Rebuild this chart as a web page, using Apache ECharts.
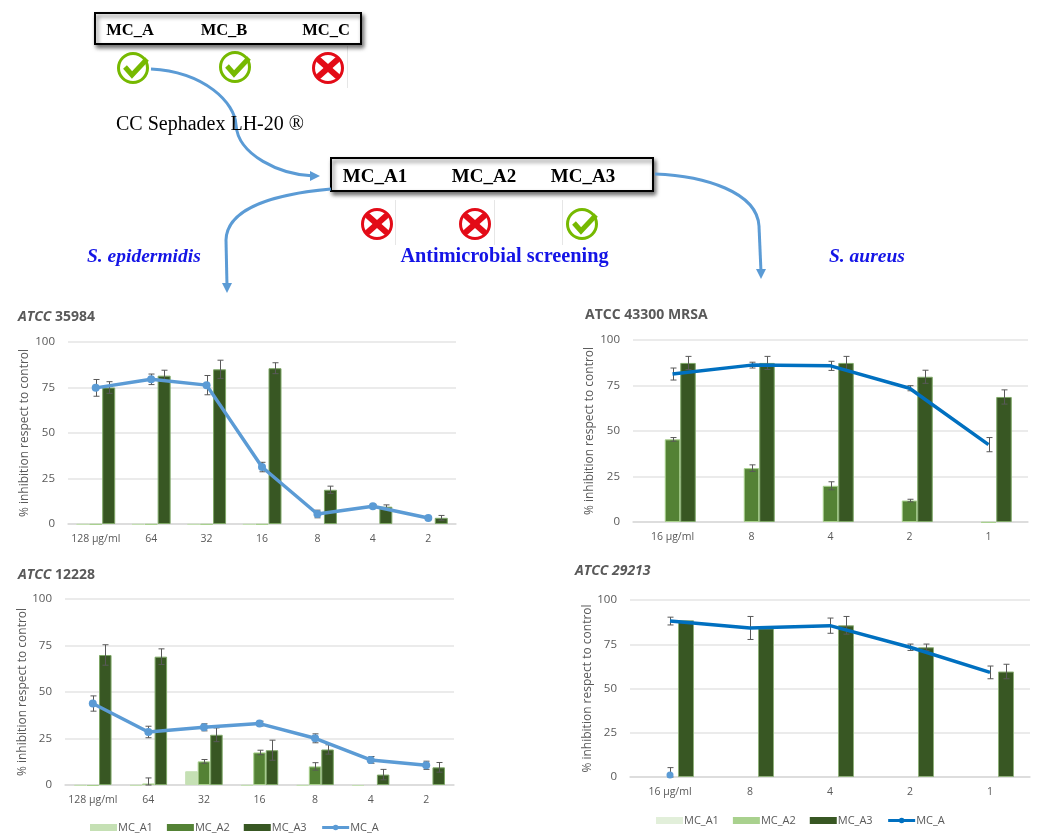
<!DOCTYPE html>
<html>
<head>
<meta charset="utf-8">
<title>Antimicrobial screening</title>
<script src="https://cdn.jsdelivr.net/npm/echarts@6/dist/echarts.min.js"></script>
<style>
  html, body { margin: 0; padding: 0; background: #fff; }
  .layer { position: absolute; left: 0; top: 0; width: 1043px; height: 834px; }
</style>
</head>
<body>
<div class="layer" id="flow"></div>
<div class="layer" id="c35984"></div>
<div class="layer" id="c43300"></div>
<div class="layer" id="c12228"></div>
<div class="layer" id="c29213"></div>
<script>
/* values */
const cats7 = ['128 µg/ml', '64', '32', '16', '8', '4', '2'];
const cats5 = ['16 µg/ml', '8', '4', '2', '1'];

/* ATCC 35984 */
const a1_35984 = [-0.4, -0.4, -0.4, -0.4, null, null, null];
const a2_35984 = [-0.4, -0.4, -0.4, -0.4, null, null, null];
const a3_35984 = [75, 81.5, 85, 85.6, 18.8, 9.5, 3.4];
const a3e_35984 = [3.2, 3, 5, 3, 2, 1, 1.3];
const a_35984 = [74.8, 79.5, 76.3, 31.3, 5.5, 9.8, 3.3];
const ae_35984 = [4.6, 2.9, 5.3, 2.6, 2.1, 1, 0.8];

/* ATCC 43300 MRSA */
const a1_43300 = [null, null, null, null, null];
const a2_43300 = [45.4, 29.6, 19.9, 11.8, -0.4];
const a2e_43300 = [1, 1.8, 2.2, 0.7, null];
const a3_43300 = [87.4, 87.4, 87.4, 79.8, 68.7];
const a3e_43300 = [3.6, 3.6, 3.6, 3.6, 3.9];
const a_43300 = [81.3, 86.2, 85.8, 73.5, 42.5];
const ae_43300 = [3.3, 1.6, 2.5, 1.4, 3.9];

/* ATCC 12228 */
const a1_12228 = [-0.4, -0.4, 7.4, -0.4, -0.4, -0.5, null];
const a2_12228 = [-0.5, 0.8, 12.7, 17.5, 10, null, null];
const a2e_12228 = [null, 3, 1, 1.2, 2, null, null];
const a3_12228 = [69.9, 69, 27, 18.7, 19.1, 5.6, 9.5];
const a3e_12228 = [5.5, 4.2, 3.7, 5.4, 2.5, 2.8, 2.6];
const a_12228 = [43.8, 28.5, 31, 33, 25.1, 13.5, 10.6];
const ae_12228 = [4.1, 3.1, 1.9, 1.3, 2.4, 1.8, 2.2];

/* ATCC 29213 */
const a1_29213 = [null, null, null, null, null];
const a2_29213 = [null, null, null, null, null];
const a3_29213 = [88.5, 84, 85.7, 73.3, 59.6];
const a3e_29213 = [null, null, 5, 1.8, 4.1];
const a_29213 = [88.1, 84.2, 85.5, 73.3, 59.1];
const ae_29213 = [2.2, 6.5, 4.3, 1.8, 3.6];
const dot_29213 = [1.2, null, null, null, null];
const dote_29213 = [4.1, null, null, null, null];

const UI_FONT = '"Open Sans", sans-serif';
const GREY = '#595959';

/* error bars: one custom series per bar/line series, drawn under the line */
function errorSeries(values, errs, offset) {
  const data = [];
  values.forEach((v, i) => {
    if (v == null || errs[i] == null) return;
    data.push([i, Math.max(v - errs[i], 0), v + errs[i]]);
  });
  return {
    type: 'custom',
    silent: true,
    z: 4,
    encode: { x: 0, y: [1, 2] },
    data,
    renderItem(params, api) {
      const lo = api.coord([api.value(0), api.value(1)]);
      const hi = api.coord([api.value(0), api.value(2)]);
      const x = Math.round(lo[0] + offset) + 0.5;
      const st = { stroke: '#595959', lineWidth: 1 };
      return {
        type: 'group',
        children: [
          { type: 'line', shape: { x1: x, y1: lo[1], x2: x, y2: hi[1] }, style: st },
          { type: 'line', shape: { x1: x - 3, y1: lo[1], x2: x + 3, y2: lo[1] }, style: st },
          { type: 'line', shape: { x1: x - 3, y1: hi[1], x2: x + 3, y2: hi[1] }, style: st },
        ],
      };
    },
  };
}

function barSeries(name, values, fill, border, width) {
  return {
    name, type: 'bar', data: values, barWidth: width, barGap: 0, clip: false,
    itemStyle: { color: fill, borderColor: border, borderWidth: 1 },
  };
}

/* one panel; coordinates are page pixels, every layer fills the window */
function makeChart(id, c) {
  const series = [
    barSeries('MC_A1', c.a1, c.colors[0], c.colors[0], c.barW),
    barSeries('MC_A2', c.a2, c.colors[1], c.borders[1], c.barW),
    barSeries('MC_A3', c.a3, '#385723', c.borders[2], c.barW),
    {
      name: 'MC_A', type: 'line', data: c.a, z: 5,
      symbol: c.marker ? 'circle' : 'none', symbolSize: 8,
      lineStyle: { color: c.lineColor, width: 3.5 },
      itemStyle: { color: c.lineColor },
    },
    errorSeries(c.a, c.ae, 0),
    errorSeries(c.a3, c.a3e, c.barW),
  ];
  if (c.a2e) series.push(errorSeries(c.a2, c.a2e, 0));
  if (c.dot) {
    series.push({
      type: 'line', data: c.dot, symbol: 'circle', symbolSize: 7, z: 5,
      lineStyle: { opacity: 0 }, itemStyle: { color: '#5b9bd5' },
    });
    series.push(errorSeries(c.dot, c.dote, 0));
  }

  const option = {
    animation: false,
    textStyle: { fontFamily: UI_FONT },
    title: {
      text: c.title, left: c.titleX, top: c.titleY, padding: 0,
      textStyle: {
        color: GREY, fontSize: 14, fontWeight: 'bold', fontFamily: UI_FONT, fontStyle: c.titleItalic ? 'italic' : 'normal',
        rich: {
          i: { fontStyle: 'italic', fontWeight: 'bold', color: GREY, fontSize: 14, fontFamily: UI_FONT },
          b: { fontWeight: 'bold', color: GREY, fontSize: 14, fontFamily: UI_FONT },
        },
      },
    },
    grid: { left: c.left, top: c.top, width: c.right - c.left, height: c.bottom - c.top, containLabel: false },
    xAxis: {
      type: 'category', data: c.cats,
      axisTick: { show: false },
      axisLine: { lineStyle: { color: '#d9d9d9', width: 1.5 } },
      axisLabel: { color: GREY, fontSize: 10.5, margin: 10, interval: 0, fontFamily: UI_FONT },
    },
    yAxis: {
      type: 'value', min: 0, max: 100, interval: 25,
      name: '% inhibition respect to control',
      nameLocation: 'middle', nameRotate: 90, nameGap: c.nameGap,
      nameTextStyle: { color: GREY, fontSize: 12, fontFamily: UI_FONT },
      axisLine: { show: false }, axisTick: { show: false },
      axisLabel: { color: GREY, fontSize: 11.5, margin: 13, fontFamily: UI_FONT },
      splitLine: { lineStyle: { color: '#e4e4e4', width: 1.5 } },
    },
    series,
  };
  if (c.legendX != null) {
    const swatch = { icon: 'rect', itemStyle: { borderWidth: 0 } };
    option.legend = {
      data: [
        { name: 'MC_A1', ...swatch },
        { name: 'MC_A2', ...swatch },
        { name: 'MC_A3', ...swatch },
        { name: 'MC_A', lineStyle: { width: 3 } },
      ],
      left: c.legendX, top: c.legendY, itemWidth: 27, itemHeight: 7, itemGap: 14, padding: 0,
      textStyle: { color: GREY, fontSize: 11, fontFamily: UI_FONT, padding: [0, 0, 0, -4] },
    };
  }
  echarts.init(document.getElementById(id)).setOption(option);
}

makeChart('c35984', {
  title: '{i|ATCC} {b|35984}', titleX: 18, titleY: 310,
  left: 68, right: 456, top: 342, bottom: 524, nameGap: 37, barW: 13, marker: true,
  cats: cats7, a1: a1_35984, a2: a2_35984, a3: a3_35984, a3e: a3e_35984, a: a_35984, ae: ae_35984,
  colors: ['#c5e0b4', '#548235'], borders: [null, '#a9d18e', '#7fa868'], lineColor: '#5b9bd5',
});
makeChart('c43300', {
  title: 'ATCC 43300 MRSA', titleX: 585, titleY: 308,
  left: 633, right: 1028, top: 340, bottom: 522, nameGap: 37, barW: 15.5, marker: false,
  cats: cats5, a1: a1_43300, a2: a2_43300, a2e: a2e_43300, a3: a3_43300, a3e: a3e_43300, a: a_43300, ae: ae_43300,
  colors: ['#c5e0b4', '#548235'], borders: [null, '#a9d18e', '#7fa868'], lineColor: '#0070c0',
});
makeChart('c12228', {
  title: '{i|ATCC} {b|12228}', titleX: 18, titleY: 568,
  left: 65, right: 454, top: 599, bottom: 785, nameGap: 33, barW: 12.5, marker: true,
  cats: cats7, a1: a1_12228, a2: a2_12228, a2e: a2e_12228, a3: a3_12228, a3e: a3e_12228, a: a_12228, ae: ae_12228,
  colors: ['#c5e0b4', '#548235'], borders: [null, '#a9d18e', '#7fa868'], lineColor: '#5b9bd5',
  legendX: 90, legendY: 822,
});
makeChart('c29213', {
  title: 'ATCC 29213', titleItalic: true, titleX: 575, titleY: 564,
  left: 630, right: 1030, top: 600, bottom: 777, nameGap: 32, barW: 16, marker: false,
  cats: cats5, a1: a1_29213, a2: a2_29213, a3: a3_29213, a3e: a3e_29213, a: a_29213, ae: ae_29213,
  dot: dot_29213, dote: dote_29213,
  colors: ['#e2efda', '#a9d18e'], borders: [null, '#a9d18e', '#8fb07a'], lineColor: '#0070c0',
  legendX: 656, legendY: 815,
});

/* flow diagram behind the charts */
const SERIF = '"Liberation Serif", serif';
const ARROW = '#5b9bd5';

function label(text, x, y, font, fill, align) {
  return { type: 'text', z: 5, style: { text, x, y, font, fill: fill || '#000', textAlign: align || 'center', textVerticalAlign: 'middle' } };
}
function box(x, y, w, h) {
  return {
    type: 'rect', z: 2, shape: { x, y, width: w, height: h },
    style: { fill: '#fff', stroke: '#000', lineWidth: 2, shadowBlur: 4, shadowOffsetX: 2, shadowOffsetY: 3, shadowColor: 'rgba(0,0,0,0.55)' },
  };
}
function okIcon(cx, cy) {
  return {
    type: 'group', z: 3, children: [
      { type: 'circle', shape: { cx, cy, r: 14.5 }, style: { fill: '#fff', stroke: '#76b900', lineWidth: 3 } },
      { type: 'polyline', shape: { points: [[cx - 8, cy - 1], [cx - 1, cy + 7], [cx + 14, cy - 9]] }, style: { fill: 'none', stroke: '#76b900', lineWidth: 5 } },
    ],
  };
}
function noIcon(cx, cy) {
  return {
    type: 'group', z: 3, children: [
      { type: 'circle', shape: { cx, cy, r: 14.5 }, style: { fill: '#fff', stroke: '#e30b17', lineWidth: 3 } },
      { type: 'line', shape: { x1: cx - 9, y1: cy - 8, x2: cx + 9, y2: cy + 8 }, style: { stroke: '#e30b17', lineWidth: 6, lineCap: 'round' } },
      { type: 'line', shape: { x1: cx - 9, y1: cy + 8, x2: cx + 9, y2: cy - 8 }, style: { stroke: '#e30b17', lineWidth: 6, lineCap: 'round' } },
    ],
  };
}
const lineStyle = { fill: 'none', stroke: ARROW, lineWidth: 3 };
function bez(x1, y1, cpx1, cpy1, cpx2, cpy2, x2, y2) {
  return { type: 'bezierCurve', z: 4, shape: { x1, y1, cpx1, cpy1, cpx2, cpy2, x2, y2 }, style: lineStyle };
}
function seg(x1, y1, x2, y2) {
  return { type: 'line', z: 4, shape: { x1, y1, x2, y2 }, style: lineStyle };
}
function head(points) {
  return { type: 'polygon', z: 4, shape: { points }, style: { fill: ARROW } };
}
function edge(x, y1, y2) {
  return { type: 'line', z: 1, shape: { x1: x, y1, x2: x, y2 }, style: { stroke: '#e6e6e6', lineWidth: 1 } };
}

echarts.init(document.getElementById('flow')).setOption({
  animation: false,
  graphic: { elements: [
    box(95, 13, 266, 31),
    label('MC_A', 130, 30.5, 'bold 16.5px ' + SERIF),
    label('MC_B', 224, 30.5, 'bold 16.5px ' + SERIF),
    label('MC_C', 326, 30.5, 'bold 16.5px ' + SERIF),
    edge(347.5, 46, 88),
    okIcon(133, 68), okIcon(235, 67), noIcon(328, 68),
    label('CC Sephadex LH-20 ®', 116, 125, '20px ' + SERIF, '#000', 'left'),
    bez(151, 69, 205, 72, 235, 103, 236, 125),
    bez(236, 125, 238, 155, 280, 175, 314, 176),
    head([[320, 176], [310, 171], [310, 181]]),
    box(331, 158, 322, 33),
    label('MC_A1', 375, 177.5, 'bold 19px ' + SERIF),
    label('MC_A2', 484, 177.5, 'bold 19px ' + SERIF),
    label('MC_A3', 583, 177.5, 'bold 19px ' + SERIF),
    edge(395.5, 200, 245), edge(494.5, 200, 245), edge(562.5, 200, 245),
    noIcon(377, 224), noIcon(475, 224), okIcon(582, 224),
    bez(331, 189, 275, 194, 227, 208, 226, 240),
    seg(226, 240, 227, 286),
    head([[227, 293], [222, 283], [232, 283]]),
    bez(655, 174, 705, 176, 757, 192, 759, 226),
    seg(759, 226, 761, 272),
    head([[761, 279], [756, 269], [766, 269]]),
    label('S. epidermidis', 87, 257, 'italic bold 19.5px ' + SERIF, '#1414e6', 'left'),
    label('Antimicrobial screening', 504.5, 257, 'bold 20.3px ' + SERIF, '#1414e6'),
    label('S. aureus', 829, 257, 'italic bold 19.5px ' + SERIF, '#1414e6', 'left'),
  ] },
});
</script>
</body>
</html>
